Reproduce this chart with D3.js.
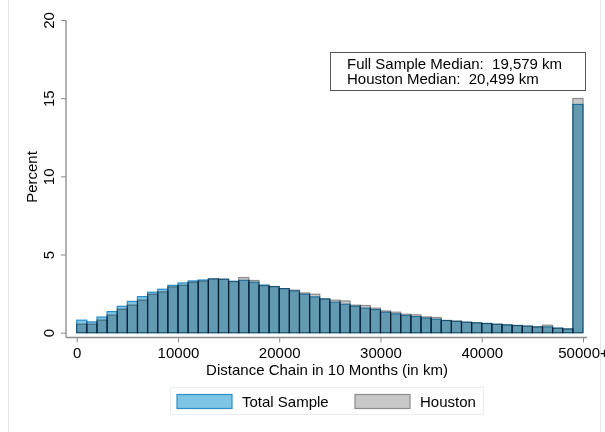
<!DOCTYPE html>
<html>
<head>
<meta charset="utf-8">
<script src="https://cdn.jsdelivr.net/npm/d3@7"></script>
<style>
  body { margin: 0; background: #fff; }
  svg { display: block; font-family: "Liberation Sans", Arial, sans-serif; }
  .bar { mix-blend-mode: multiply; }
</style>
</head>
<body>
<div id="chart"></div>
<script>
// histogram of distance chains, 1000 km bins, last bin is 50000+
let binWidth = 1000;
let binStarts = d3.range(0, 50000, binWidth);

let totalPct = [0.80, 0.69, 1.00, 1.35, 1.69, 2.00, 2.31, 2.59, 2.78, 3.03,
                3.18, 3.31, 3.37, 3.44, 3.42, 3.29, 3.35, 3.23, 3.05, 2.95,
                2.82, 2.67, 2.46, 2.29, 2.16, 1.95, 1.82, 1.69, 1.57, 1.48,
                1.31, 1.20, 1.10, 1.03, 0.93, 0.86, 0.78, 0.72, 0.67, 0.63,
                0.59, 0.54, 0.50, 0.46, 0.42, 0.37, 0.37, 0.29, 0.24, 14.60];

let houstonPct = [0.54, 0.54, 0.80, 1.12, 1.50, 1.76, 2.08, 2.46, 2.61, 2.93,
                  3.03, 3.23, 3.30, 3.44, 3.42, 3.27, 3.53, 3.34, 3.00, 2.95,
                  2.82, 2.72, 2.54, 2.46, 2.16, 2.08, 2.03, 1.76, 1.74, 1.57,
                  1.39, 1.31, 1.18, 1.14, 1.01, 0.97, 0.78, 0.75, 0.67, 0.63,
                  0.59, 0.54, 0.50, 0.46, 0.42, 0.37, 0.48, 0.29, 0.24, 14.98];

let xTicks = [0, 10000, 20000, 30000, 40000, 50000];
let xTickLabels = ["0", "10000", "20000", "30000", "40000", "50000+"];
let yTicks = [0, 5, 10, 15, 20];

let noteLines = ["Full Sample Median:  19,579 km", "Houston Median:  20,499 km"];
let legendNames = ["Total Sample", "Houston"];

let width = 605, height = 432;
let fontSize = "15px";

let xScale = d3.scaleLinear().domain([0, 50000]).range([76.7, 583]);
let yScale = d3.scaleLinear().domain([0, 20]).range([332.7, 20]);

let svg = d3.select("#chart").append("svg")
  .attr("width", width)
  .attr("height", height);

// faint outer frame
svg.append("rect")
  .attr("x", 8.5).attr("y", -2)
  .attr("width", 592).attr("height", height + 4)
  .attr("fill", "none")
  .attr("stroke", "#e4e8ec");

// bars: both series drawn with multiply so the overlap gets darker
let series = [
  { values: totalPct, fill: "#7dc5e2", stroke: "#2b8fc6" },
  { values: houstonPct, fill: "#c8c8c8", stroke: "#8c8c8c" }
];

let barG = svg.append("g").style("isolation", "isolate");
series.forEach(function(s) {
  barG.append("g")
    .selectAll("rect")
    .data(binStarts)
    .enter()
    .append("rect")
    .attr("class", "bar")
    .attr("x", function(d) { return xScale(d); })
    .attr("width", function(d) { return xScale(d + binWidth) - xScale(d); })
    .attr("y", function(d, i) { return yScale(s.values[i]); })
    .attr("height", function(d, i) { return yScale(0) - yScale(s.values[i]); })
    .attr("fill", s.fill)
    .attr("stroke", s.stroke)
    .attr("stroke-width", 1.2);
});

// y axis
let yAxis = svg.append("g")
  .attr("transform", "translate(66,0)")
  .call(d3.axisLeft(yScale).tickValues(yTicks).tickSize(5).tickPadding(4));
yAxis.select(".domain").remove();
yAxis.selectAll(".tick line").attr("stroke", "#8a8a8a");
yAxis.selectAll(".tick text")
  .attr("transform", "rotate(-90)")
  .attr("x", 0).attr("y", -17)
  .attr("dy", "0.35em")
  .attr("text-anchor", "middle")
  .attr("fill", "#000")
  .style("font-size", fontSize)
  .style("font-family", "'Liberation Sans', Arial, sans-serif");
svg.append("line")
  .attr("x1", 66).attr("x2", 66)
  .attr("y1", 20).attr("y2", 337.5)
  .attr("stroke", "#8a8a8a").attr("stroke-width", 1.3);

// x axis
let xAxis = svg.append("g")
  .attr("transform", "translate(0,337.5)")
  .call(d3.axisBottom(xScale).tickValues(xTicks)
    .tickFormat(function(d, i) { return xTickLabels[i]; })
    .tickSize(5).tickPadding(5));
xAxis.select(".domain").remove();
xAxis.selectAll(".tick line").attr("stroke", "#8a8a8a");
xAxis.selectAll(".tick text")
  .attr("fill", "#000")
  .style("font-size", fontSize)
  .style("font-family", "'Liberation Sans', Arial, sans-serif");
svg.append("line")
  .attr("x1", 66).attr("x2", 587)
  .attr("y1", 337.5).attr("y2", 337.5)
  .attr("stroke", "#8a8a8a").attr("stroke-width", 1.3);

// axis titles
svg.append("text")
  .attr("x", 327).attr("y", 375)
  .attr("text-anchor", "middle")
  .style("font-size", fontSize)
  .text("Distance Chain in 10 Months (in km)");

svg.append("text")
  .attr("transform", "translate(37,177) rotate(-90)")
  .attr("text-anchor", "middle")
  .style("font-size", fontSize)
  .text("Percent");

// median note box
svg.append("rect")
  .attr("x", 330.5).attr("y", 52.5)
  .attr("width", 255).attr("height", 38)
  .attr("fill", "#fff")
  .attr("stroke", "#555")
  .attr("stroke-width", 1);
svg.append("g").selectAll("text")
  .data(noteLines)
  .enter()
  .append("text")
  .attr("x", 347)
  .attr("y", function(d, i) { return 69 + i * 14.5; })
  .style("font-size", fontSize)
  .style("white-space", "pre")
  .text(function(d) { return d; });

// legend
let legend = svg.append("g");
legend.append("rect")
  .attr("x", 170.5).attr("y", 387.5)
  .attr("width", 313).attr("height", 27)
  .attr("fill", "#fff")
  .attr("stroke", "#e8eef2");
let legendX = [177, 355];
legendNames.forEach(function(name, i) {
  legend.append("rect")
    .attr("x", legendX[i]).attr("y", 394.5)
    .attr("width", 55).attr("height", 14)
    .attr("fill", series[i].fill)
    .attr("stroke", series[i].stroke)
    .attr("stroke-width", 1.2);
  legend.append("text")
    .attr("x", legendX[i] + 65).attr("y", 406.5)
    .style("font-size", fontSize)
    .text(name);
});
</script>
</body>
</html>
